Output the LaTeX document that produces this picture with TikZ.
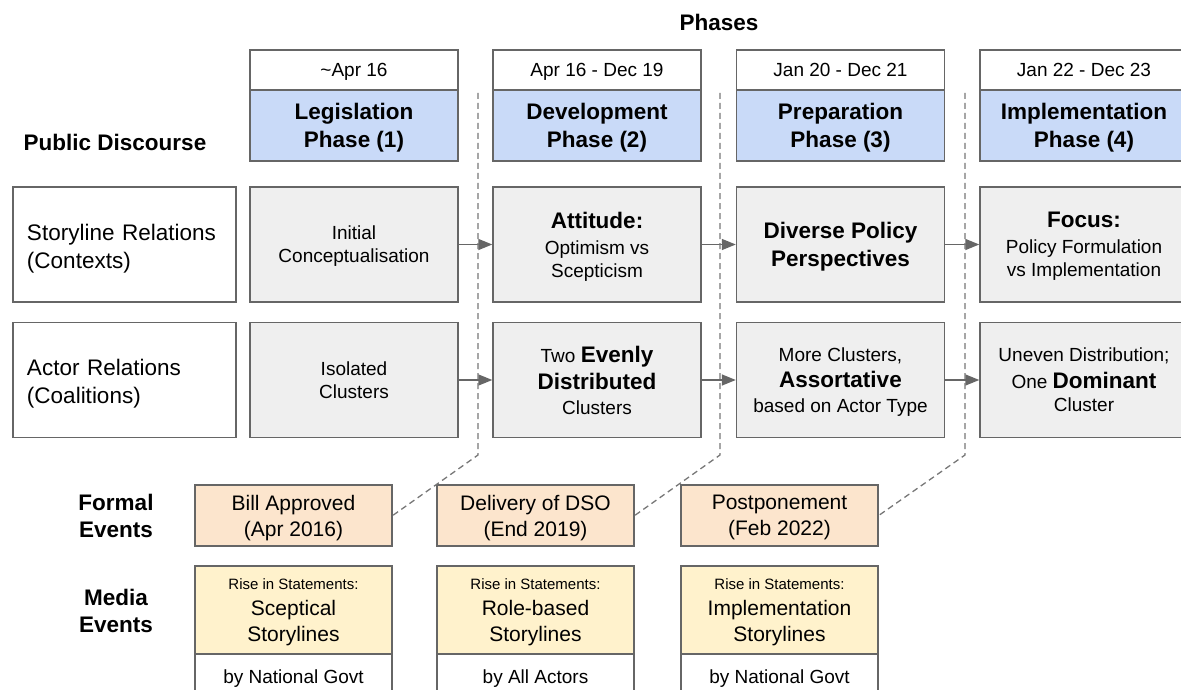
\documentclass[tikz,border=0pt]{standalone}
\usepackage{fontspec}
\setmainfont{Liberation Sans}
\usetikzlibrary{arrows.meta,positioning}
\definecolor{boxline}{HTML}{666666}
\definecolor{dashgray}{HTML}{777777}
\definecolor{phaseblue}{HTML}{C9DAF8}
\definecolor{cellgray}{HTML}{EFEFEF}
\definecolor{eventorange}{HTML}{FCE5CD}
\definecolor{mediayellow}{HTML}{FFF2CC}
\newcommand{\fs}[2]{\fontsize{#1}{#2}\selectfont}
\newcommand{\bigb}[1]{{\bfseries\fs{22.5}{27}#1}}
\tikzset{
  cell/.style={draw=boxline, line width=1.4pt, align=center, inner sep=0pt, text depth=-2pt, minimum width=208pt},
  datebox/.style={cell, fill=white, minimum height=40pt, font=\fs{19}{23}},
  phasebox/.style={cell, fill=phaseblue, minimum height=71pt, font=\fs{22.5}{28}\bfseries},
  graybox/.style={cell, fill=cellgray, minimum height=115pt, font=\fs{19}{23}},
  rowlabel/.style={cell, fill=white, minimum width=223pt, minimum height=115pt, text width=195pt, inner xsep=14pt, text depth=25pt, align=left, font=\fs{22.5}{28}},
  heading/.style={align=center, inner sep=0pt, font=\fs{22.5}{27}\bfseries},
  eventbox/.style={cell, fill=eventorange, minimum width=197pt, minimum height=61pt, font=\fs{21}{26}},
  mediabox/.style={cell, fill=mediayellow, minimum width=197pt, minimum height=88pt, font=\fs{21}{26}},
  bybox/.style={cell, fill=white, minimum width=197pt, minimum height=46pt, font=\fs{19}{23}},
  flow/.style={draw=boxline, line width=1.4pt, -{Triangle[length=14pt,width=11pt]}},
  phaseline/.style={draw=dashgray, line width=1.3pt, dash pattern=on 6pt off 4pt}
}
\begin{document}
\begin{tikzpicture}[x=1pt, y=-1pt]
  \useasboundingbox (0,0) rectangle (1181,690);

  % phase headers
  \node[heading] (phases) at (719,22) {Phases};
  \node[datebox] (date1) at (354,70) {\textasciitilde Apr 16};
  \node[datebox] (date2) at (597,70) {Apr 16 - Dec 19};
  \node[datebox] (date3) at (840.5,70) {Jan 20 - Dec 21};
  \node[datebox] (date4) at (1084,70) {Jan 22 - Dec 23};
  \node[phasebox] (ph1) at (354,125.5) {Legislation\\Phase (1)};
  \node[phasebox] (ph2) at (597,125.5) {Development\\Phase (2)};
  \node[phasebox] (ph3) at (840.5,125.5) {Preparation\\Phase (3)};
  \node[phasebox] (ph4) at (1084,125.5) {Implementation\\Phase (4)};

  % row labels
  \node[heading] (disc) at (115,142) {Public Discourse};
  \node[rowlabel] (story) at (124.5,244.5) {Storyline Relations\\(Contexts)};
  \node[rowlabel] (actor) at (124.5,380) {Actor Relations\\(Coalitions)};

  % storyline relations
  \node[graybox] (sr1) at (354,244.5) {Initial\\Conceptualisation};
  \node[graybox] (sr2) at (597,244.5) {\bigb{Attitude:}\\[3pt]Optimism vs\\Scepticism};
  \node[graybox] (sr3) at (840.5,244.5) {\bigb{Diverse Policy}\\[5pt]\bigb{Perspectives}};
  \node[graybox] (sr4) at (1084,244.5) {\bigb{Focus:}\\[3pt]Policy Formulation\\vs Implementation};

  % actor relations
  \node[graybox] (ar1) at (354,380) {Isolated\\Clusters};
  \node[graybox] (ar2) at (597,380) {Two \bigb{Evenly}\\[4pt]\bigb{Distributed}\\[2pt]Clusters};
  \node[graybox] (ar3) at (840.5,380) {More Clusters,\\[3pt]\bigb{Assortative}\\[2pt]based on Actor Type};
  \node[graybox] (ar4) at (1084,380) {Uneven Distribution;\\[4pt]One \bigb{Dominant}\\Cluster};

  \draw[flow] (sr1) -- (sr2);
  \draw[flow] (sr2) -- (sr3);
  \draw[flow] (sr3) -- (sr4);
  \draw[flow] (ar1) -- (ar2);
  \draw[flow] (ar2) -- (ar3);
  \draw[flow] (ar3) -- (ar4);

  % events
  \node[heading] (formal) at (116,516) {Formal\\Events};
  \node[heading] (media) at (116,611) {Media\\Events};
  \node[eventbox] (ev1) at (293.5,515.5) {Bill Approved\\(Apr 2016)};
  \node[eventbox] (ev2) at (535.5,515.5) {Delivery of DSO\\(End 2019)};
  \node[eventbox] (ev3) at (779.5,515.5) {Postponement\\(Feb 2022)};
  \node[mediabox] (md1) at (293.5,610) {{\fs{15}{18}Rise in Statements:}\\Sceptical\\Storylines};
  \node[mediabox] (md2) at (535.5,610) {{\fs{15}{18}Rise in Statements:}\\Role-based\\Storylines};
  \node[mediabox] (md3) at (779.5,610) {{\fs{15}{18}Rise in Statements:}\\Implementation\\Storylines};
  \node[bybox] (by1) at (293.5,677) {by National Govt};
  \node[bybox] (by2) at (535.5,677) {by All Actors};
  \node[bybox] (by3) at (779.5,677) {by National Govt};

  % phase boundaries
  \coordinate (b1top) at (478,93);
  \coordinate (b1bot) at (478,455);
  \coordinate (b2top) at (720,93);
  \coordinate (b2bot) at (720,455);
  \coordinate (b3top) at (965,93);
  \coordinate (b3bot) at (965,455);
  \draw[phaseline] (b1top) -- (b1bot) -- (ev1.east);
  \draw[phaseline] (b2top) -- (b2bot) -- (ev2.east);
  \draw[phaseline] (b3top) -- (b3bot) -- (ev3.east);
\end{tikzpicture}
\end{document}
